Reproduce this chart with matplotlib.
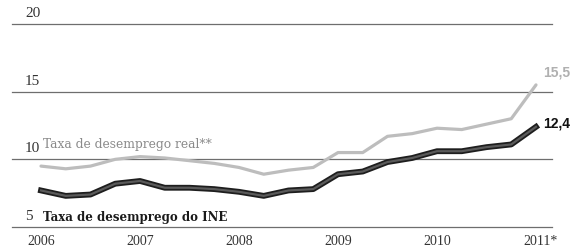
import numpy as np
import matplotlib
matplotlib.use("Agg")
import matplotlib.pyplot as plt
import matplotlib.patheffects as pe

# quarterly values, 2006 Q1 .. 2011 Q1
quarters = ["2006Q1", "2006Q2", "2006Q3", "2006Q4",
            "2007Q1", "2007Q2", "2007Q3", "2007Q4",
            "2008Q1", "2008Q2", "2008Q3", "2008Q4",
            "2009Q1", "2009Q2", "2009Q3", "2009Q4",
            "2010Q1", "2010Q2", "2010Q3", "2010Q4",
            "2011Q1"]
taxa_real = [9.5, 9.3, 9.5, 10.0, 10.2, 10.1, 9.9, 9.7, 9.4, 8.9, 9.2, 9.4,
             10.5, 10.5, 11.7, 11.9, 12.3, 12.2, 12.6, 13.0, 15.5]
taxa_ine = [7.7, 7.3, 7.4, 8.2, 8.4, 7.9, 7.9, 7.8, 7.6, 7.3, 7.7, 7.8,
            8.9, 9.1, 9.8, 10.1, 10.6, 10.6, 10.9, 11.1, 12.4]
year_ticks = [2006, 2007, 2008, 2009, 2010, 2011]
year_labels = ["2006", "2007", "2008", "2009", "2010", "2011*"]
y_ticks = [5, 10, 15, 20]

x = np.array([int(q[:4]) + (int(q[-1]) - 1) / 4 for q in quarters])

fig = plt.figure(figsize=(5.85, 2.49), dpi=100)
ax = fig.add_axes([12 / 585, 1 - 227 / 249, 540 / 585, 203 / 249])
ax.set_xlim(2006 - 29 / 99, 2006 + 511 / 99)
ax.set_ylim(5, 20)
ax.set_axis_off()

for v in y_ticks:
    ax.axhline(v, color="#6e6e6e", lw=0.9, zorder=1, clip_on=False)
    ax.text(2006 - 16 / 99, v + 0.3, str(v), fontsize=11, family="Liberation Serif",
            color="#333333", ha="left", va="bottom")

ax.plot(x, taxa_real, color="#bdbdbd", lw=2.3, solid_capstyle="round", zorder=3)
ax.plot(x, taxa_ine, color="#5a5a5a", lw=1.6, zorder=4,
        path_effects=[pe.Stroke(linewidth=4.2, foreground="#1e1e1e"), pe.Normal()])

for yr, lab in zip(year_ticks, year_labels):
    xpos = yr - 13 / 99 if lab.endswith("*") else yr
    ax.text(xpos, 3.9, lab, fontsize=10, family="Liberation Serif", color="#333333",
            ha="left" if lab.endswith("*") else "center", va="center")

ax.text(2006 + 2 / 99, 11.1, "Taxa de desemprego real**", fontsize=8.8,
        family="DejaVu Serif", color="#8a8a8a", ha="left", va="center")
ax.text(2006 + 2 / 99, 5.7, "Taxa de desemprego do INE", fontsize=8.5,
        family="DejaVu Serif", fontweight="bold", color="#1a1a1a",
        ha="left", va="center")

ax.text(x[-1] + 7 / 99, taxa_real[-1] + 0.9, "15,5", fontsize=10,
        family="Liberation Sans", fontweight="bold", color="#b0b0b0",
        ha="left", va="center")
ax.text(x[-1] + 7 / 99, taxa_ine[-1] + 0.25, "12,4", fontsize=10,
        family="Liberation Sans", fontweight="bold", color="#111111",
        ha="left", va="center")

fig.savefig("out.png", dpi=100)
